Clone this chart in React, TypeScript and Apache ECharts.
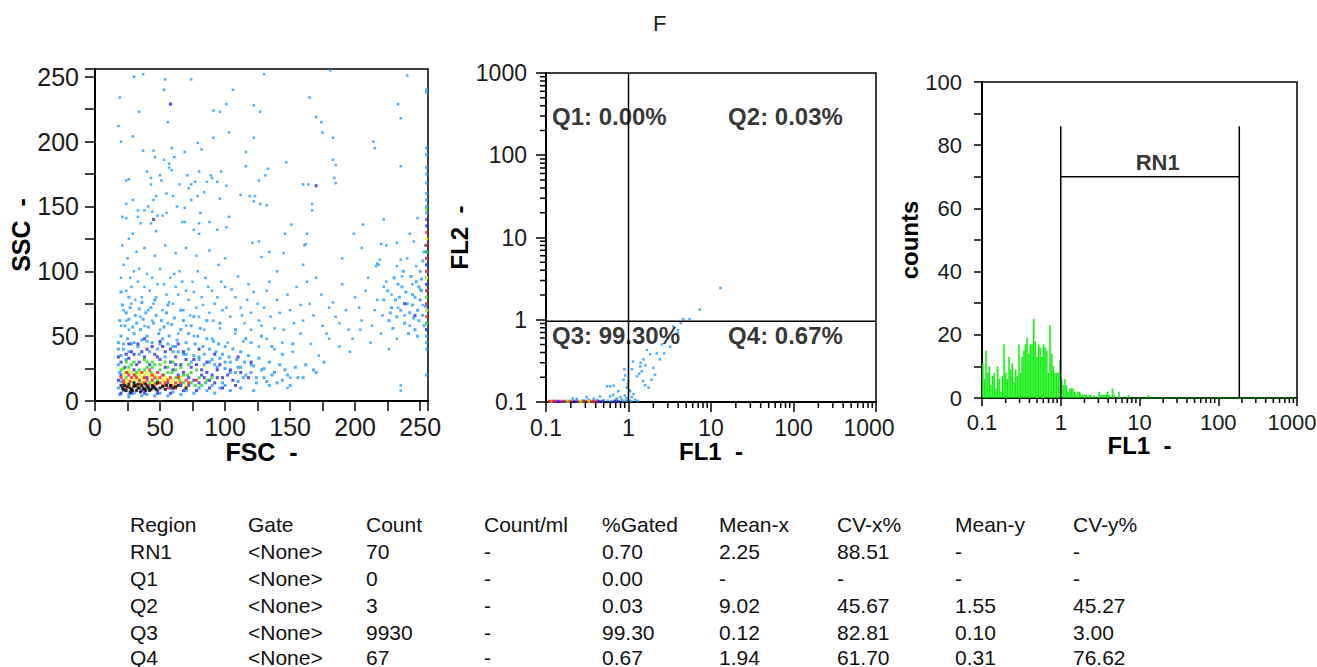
import React, { useEffect, useRef } from 'react';
import * as echarts from 'echarts';

const FONT = '"Liberation Sans", Arial, sans-serif';
const TITLE = 'F';

// ---------- Panel 1: FSC vs SSC (events, by density colour) ----------
const fscSscSparse: number[][] = [
  [30,250],[37,252],[54,248],[74,248],[130,252],[181,255],[240,251],[19,234],[53,240],[56,215],[106,240],[58,229],
  [101,229],[122,228],[127,223],[91,224],[96,223],[233,229],[235,218],[18,212],[20,200],[29,204],[34,223],[103,207],
  [165,234],[170,219],[174,215],[175,207],[183,203],[214,200],[215,195],[235,181],[183,186],[185,182],[185,168],
  [122,203],[116,192],[116,181],[91,203],[79,199],[82,194],[69,192],[59,195],[61,188],[45,193],[46,188],[37,193],
  [57,183],[53,186],[40,177],[43,172],[43,167],[50,174],[51,170],[57,180],[59,178],[71,174],[80,177],[89,174],
  [97,177],[90,172],[94,169],[86,169],[133,179],[131,174],[147,184],[126,170],[160,167],[164,167],[167,152],
  [167,147],[184,172],[119,158],[123,158],[65,167],[74,167],[77,169],[72,164],[79,158],[74,155],[84,161],[55,160],
  [60,158],[47,158],[45,155],[41,150],[44,146],[33,147],[38,147],[24,170],[26,171],[24,152],[29,155],[33,142],
  [24,141],[21,142],[29,129],[35,137],[43,137],[48,143],[47,131],[55,145],[52,143],[63,150],[69,149],[67,138],
  [69,138],[81,145],[80,137],[80,129],[76,132],[88,138],[94,132],[101,134],[103,142],[96,156],[101,166],[112,159],
  [122,154],[132,151],[151,136],[146,129],[163,129],[161,120],[162,121],[199,129],[206,136],[222,140],[220,121],
  [224,120],[232,122],[219,109],[217,106],[216,104],[235,109],[245,123],[248,141],[242,129],[121,122],[126,123],
  [128,111],[134,115],[145,114],[127,152],[235,8],[235,12],[148,10],[150,18]
];
const fscSscMid: number[][] = [
  [20,95],[22,105],[25,110],[28,88],[30,100],[33,92],[36,80],[40,98],[42,85],[45,75],[48,90],[50,102],[52,70],
  [55,82],[58,95],[60,75],[62,88],[65,100],[68,70],[70,85],[72,78],[75,92],[78,72],[80,65],[82,80],[85,95],[88,68],
  [90,85],[92,75],[95,105],[98,70],[100,88],[104,65],[108,80],[112,72],[115,60],[118,90],[120,68],[125,75],[128,58],
  [132,85],[135,65],[140,78],[145,55],[150,70],[155,88],[160,62],[165,75],[170,95],[175,58],[180,72],[185,65],
  [190,90],[195,55],[200,80],[205,62],[210,95],[215,70],[218,105],[222,88],[22,70],[24,62],[26,55],[28,75],[20,58],
  [35,65],[38,58],[44,62],[50,55],[56,60],[64,52],[70,58],[76,50],[84,55],[90,48],[96,56],[102,45],[108,52],[114,46],
  [120,55],[126,42],[132,48],[138,40],[144,45],[152,38],[158,52],[166,44],[172,35],[180,48],[188,42],[196,38],
  [204,55],[212,45],[220,52],[226,40],[232,48],
  [24,85],[27,95],[31,78],[34,102],[38,88],[41,70],[44,95],[47,80],[53,90],[57,76],[61,98],[64,82],[67,92],[73,66],
  [76,84],[79,100],[83,74],[87,88],[91,62],[94,80],[97,92],[101,72],[105,86],[110,96],[113,66],[117,78],[122,84],
  [126,62],[130,72],[134,92],[138,56],[142,68],[148,82],[153,60],[158,74],[163,92],[168,66],[174,82],[178,52],
  [183,76],[188,60],[193,70],[198,48],[203,72],[208,85],[213,58],[217,78],[221,66],[224,92],[228,82],[232,104],
  [236,96],[240,110],[244,90],[247,104],[250,86],[252,74],[242,58],[238,66],[233,72],[21,120],[26,125],[32,115],
  [38,118],[46,112],[54,120],[62,114],[70,118],[78,112],[88,116],[100,110],[140,100],[160,105],[190,110],[205,118]
];
const fscSscHalo: number[][] = [
  [19,62],[21,74],[23,58],[24,68],[26,63],[27,72],[29,57],[31,66],[32,60],[34,71],[35,55],[37,63],[39,68],[41,57],
  [43,72],[45,60],[47,66],[49,52],[51,62],[53,57],[55,68],[57,50],[59,59],[61,64],[63,47],[66,55],[68,62],[70,45],
  [72,52],[74,58],[77,44],[79,50],[81,56],[83,42],[86,48],[88,40],[91,46],[93,38],[95,44],[98,36],[100,42],[103,34],
  [106,40],[109,32],[112,38],[115,30],[118,35],[122,27],[126,33],[130,25],[134,30],[138,22],[142,28],[148,20],
  [154,26],[160,18],[168,24],[176,30],[120,45],[128,50],[136,42],[144,36],[152,44],[108,55],[116,48],[96,60],[86,62],
  [76,65],[66,70],[56,74],[46,78],[36,76],[26,80],[20,84],[30,45],[40,46],[50,44],[60,38],[70,36],[80,34],[90,32],
  [100,30],[110,26],[120,22],[130,18],[18,40],[22,44],[26,38],[34,36],[42,38],[54,34],[62,42],[74,30],[84,28],
  [94,26],[104,22],[114,18],[124,14],[134,12],[144,16],[86,8],[92,6],[98,14],[112,10],[122,8],[76,6],[66,5],[56,4],
  [46,4],[36,4],[26,3],[19,5],[18,45],[20,50],[22,40],[25,48],[28,44],[30,52],[33,42],[36,47],[40,50],[44,45],
  [48,40],[52,48],[56,44],[60,42],[64,38],[68,36],[72,40],[76,35],[80,32],[84,36],[88,30],[92,28],[96,33],[100,25],
  [104,30],[108,22],[112,26],[116,20],[120,28],[124,18],[128,24],[132,15],[136,20],[140,14],[146,24],[150,12],
  [156,18],[162,28],[170,22],[100,12],[104,8],[96,10],[110,15],[90,12],[85,14],[20,35],[24,32],[18,28],[19,22],
  [20,15],[18,10],[22,8],[26,5],[30,6],[40,5],[50,6],[60,7],[70,8],[80,10]
];
const fscSscRight: number[][] = [
  [222,78],[225,85],[228,72],[230,95],[232,65],[234,80],[236,88],[238,60],[240,75],[242,68],[244,82],[246,55],
  [247,92],[248,70],[249,62],[250,78],[251,85],[252,66],[253,58],[254,73],[226,62],[229,56],[233,90],[237,100],
  [241,52],[243,96],[245,64],[248,50],[250,100],[252,108],[239,84],[235,70],[231,78],[227,68],[244,74],[246,80],
  [249,88],[251,94],[253,115],[254,120],[255,240],[255,238],[255,195],[255,190],[255,180],[255,175],[255,168],
  [255,160],[255,155],[255,150],[255,145],[255,60],[255,55],[255,50],[255,45],[255,40],[255,100],[255,105],
  [255,110],[255,115],[255,95],[255,90],[255,85],[255,75],[255,70],[255,20]
];
const fscSscBlue: number[][] = [
  [20,30],[23,26],[26,33],[30,36],[34,30],[38,34],[42,28],[46,36],[50,32],[54,38],[58,30],[62,34],[66,28],[70,32],
  [74,26],[78,28],[82,24],[86,22],[90,20],[94,24],[98,18],[102,20],[106,16],[60,24],[64,20],[68,22],[72,18],[76,16],
  [80,14],[84,18],[88,16],[92,14],[40,40],[44,42],[28,38],[32,28],[20,20],[18,16],[22,12],[56,14],[44,10],[36,8],
  [48,8],[58,10],[66,12],[52,42],[33,44],[24,36],[36,38],[48,34],[58,40],[68,38],[76,32],[86,30],[96,28],[104,24],
  [112,22],[118,18],[108,12],[98,10],[88,10],[78,8],[68,8],[58,6],[48,6],[38,6],[28,6],[20,6],[120,30],[110,34],
  [92,36],[80,40],[64,44],[50,46],[38,48],[26,44],[18,34],[72,12],[82,20],[94,18],[62,28],[54,26],[40,18],[30,24],
  [58,229],[170,166],[45,140],[255,140],[255,135],[255,105],[255,90],[255,55],[238,75],[246,66]
];
const fscSscGreen: number[][] = [
  [22,25],[25,22],[28,28],[31,20],[34,24],[37,18],[40,26],[43,22],[46,28],[50,24],[53,20],[56,26],[59,22],[62,18],
  [65,16],[68,14],[71,20],[74,14],[77,12],[48,16],[42,14],[36,14],[30,14],[24,18],[38,32],[44,30],[30,30],[20,24],
  [26,26],[32,22],[38,24],[44,26],[50,28],[56,22],[62,24],[68,20],[74,22],[80,18],[86,16],[60,30],[66,26],[72,28],
  [78,24],[34,16],[46,14],[52,12],[82,12],[90,18],[24,30],[40,30],[54,30],[255,148],[255,115],[255,80],[255,60]
];
const fscSscYellow: number[][] = [
  [22,20],[25,16],[28,22],[31,17],[34,20],[37,15],[40,22],[43,18],[46,20],[49,14],[52,16],[55,18],[58,14],[61,12],
  [64,15],[33,12],[27,12],[45,12],[24,14],[30,16],[36,18],[42,20],[48,18],[54,16],[60,16],[66,18],[70,12],[26,24],
  [38,20],[44,14],[34,22],[255,125],[255,95],[255,70]
];
const fscSscRed: number[][] = [
  [20,18],[22,14],[24,10],[27,15],[30,12],[32,18],[35,13],[38,18],[41,12],[44,16],[47,13],[50,18],[53,12],[56,16],
  [59,12],[62,14],[26,20],[36,22],[48,22],[42,24],[54,14],[22,16],[28,18],[34,16],[40,16],[46,18],[52,20],[58,18],
  [64,18],[70,16],[66,14],[30,20],[44,20],[38,14],[56,10],[62,10],[72,14],[78,16],[24,22],[50,14],[255,130],
  [255,120],[255,110],[255,100],[255,85],[255,75],[255,65]
];
const fscSscBlack: number[][] = [
  [20,12],[22,9],[25,11],[28,9],[30,11],[32,8],[34,10],[36,12],[38,9],[40,11],[42,8],[44,12],[46,10],[26,13],[30,14],
  [24,8],[35,7],[39,13],[50,10],[55,12],[60,10],[48,14],[21,10],[23,12],[27,10],[29,8],[31,12],[33,10],[37,10],
  [41,10],[43,9],[45,11],[47,9],[52,11],[54,9],[58,12],[62,11],[27,7],[33,13],[39,8],[64,12],[70,10]
];

// ---------- Panel 2: FL1 vs FL2 ----------
const fl1fl2Trail: number[][] = [
  [13,2.43],[7.3,1.33],[5.5,1.02],[4.6,1.02],[4.3,0.91],[3.5,0.83],[3.9,0.69],[3.0,0.6],[2.54,0.5],[3.2,0.47],
  [2.7,0.39],[2.2,0.39],[1.83,0.38],[1.67,0.43],[2.4,0.33],[1.52,0.33],[1.39,0.27],[1.45,0.236],[2.1,0.215],
  [1.13,0.31],[1.1,0.25],[1.26,0.205],[1.9,0.187],[0.89,0.25],[0.91,0.21],[0.87,0.187],[1.0,0.18],[1.59,0.16],
  [1.75,0.15],[0.95,0.15],[1.05,0.135],[0.75,0.135],[0.55,0.155],[0.6,0.155],[0.66,0.158],[0.6,0.117],[0.45,0.117],
  [0.38,0.11],[0.31,0.115],[0.235,0.109],[0.21,0.11],[1.2,0.107],[0.83,0.107],[0.72,0.11],[0.9,0.12],[0.95,0.112],
  [1.0,0.105],[1.1,0.115],[0.8,0.115],[0.7,0.105],[1.3,0.103],[0.5,0.105],[0.42,0.106],[0.65,0.122],[0.28,0.104],
  [0.33,0.107],[1.15,0.125],[1.02,0.14],[0.98,0.165],[1.35,0.22],[1.5,0.18],[1.4,0.3],[1.6,0.28],[2.0,0.26],
  [4.0,0.75],[1.08,0.103],[0.93,0.104],[0.86,0.103],[0.62,0.103],[0.56,0.104]
];
const fl1fl2StripRed: number[][] = [[0.11,0.102],[0.125,0.102],[0.16,0.102],[0.2,0.102],[0.29,0.102],[0.36,0.102],[0.4,0.102]];
const fl1fl2StripYellow: number[][] = [[0.115,0.102],[0.18,0.102],[0.26,0.102],[0.33,0.102]];
const fl1fl2StripBlue: number[][] = [[0.12,0.102],[0.14,0.102],[0.17,0.102],[0.22,0.102],[0.3,0.102],[0.44,0.102],[0.48,0.102],[0.68,0.102],[0.75,0.102]];
const fl1fl2StripPurple: number[][] = [[0.13,0.102],[0.15,0.102],[0.24,0.102],[0.38,0.102]];
const fl1fl2StripGreen: number[][] = [[0.19,0.102],[0.27,0.102],[0.34,0.102]];
const quadrantSplit = { fl1: 1, fl2: 0.96 };
const quadrantLabelPos: number[][] = [[0.118, 300], [16.1, 300], [0.118, 0.64], [16.1, 0.64]];

// ---------- Panel 3: FL1 histogram (channels, 48 per decade from 0.1) ----------
const BINS_PER_DECADE = 48;
const histFirstDecade = [11,6,15,8,10,4,7,8,3,10,6,2,7,17,8,6,13,9,11,5,9,7,17,8,13,15,17,19,14,17,17,25,18,13,17,16,13,17,16,15,8,23,14,10,8,8,8,12];
const histTail: number[][] = [
  [48,6],[49,4],[50,6],[51,4],[52,2],[53,3],[54,3],[55,3],[56,2],[57,1],[58,2],[59,2],[60,1],[61,1],[62,1],[63,1],
  [65,1],[66,1],[68,1],[71,2],[72,1],[73,1],[74,1],[75,1],[76,2],[77,1],[79,3],[80,1],[83,2],[89,1],[101,1]
];
const rn1Gate = { from: 1, to: 185, level: 70, top: 86, labelAt: 17 };

// ---------- Statistics table ----------
const tableHeader = ['Region', 'Gate', 'Count', 'Count/ml', '%Gated', 'Mean-x', 'CV-x%', 'Mean-y', 'CV-y%'];
const regions = ['RN1', 'Q1', 'Q2', 'Q3', 'Q4'];
const gates = ['<None>', '<None>', '<None>', '<None>', '<None>'];
const counts = ['70', '0', '3', '9930', '67'];
const countPerMl = ['-', '-', '-', '-', '-'];
const pctGated = ['0.70', '0.00', '0.03', '99.30', '0.67'];
const meanX = ['2.25', '-', '9.02', '0.12', '1.94'];
const cvX = ['88.51', '-', '45.67', '82.81', '61.70'];
const meanY = ['-', '-', '1.55', '0.10', '0.31'];
const cvY = ['-', '-', '45.27', '3.00', '76.62'];

const logMajor = [0.1, 1, 10, 100, 1000];
const logMinor = [0.2,0.3,0.4,0.5,0.6,0.7,0.8,0.9,2,3,4,5,6,7,8,9,20,30,40,50,60,70,80,90,200,300,400,500,600,700,800,900];

const fmtLog = (v: number) => (v < 1 ? (Math.round(v * 10) / 10).toFixed(1) : String(Math.round(v)));

export default function App() {
  const ref = useRef<HTMLDivElement>(null);
  useEffect(() => {
    if (!ref.current) return;
    const chart = echarts.init(ref.current, null, { renderer: 'svg' });

    const black = '#000';
    const labelColor = '#1a1a1a';
    const axisBase = (fontSize: number, margin: number, tickLen: number) => ({
      axisLine: { show: true, onZero: false, lineStyle: { color: black, width: 2 } },
      axisTick: { show: true, length: tickLen, lineStyle: { color: black, width: 1.5 } },
      axisLabel: { fontSize, margin, color: labelColor, fontFamily: FONT },
      splitLine: { show: false },
      nameLocation: 'middle' as const,
    });
    const nameStyle = (size: number) => ({ fontSize: size, fontWeight: 'bold' as const, color: '#000', fontFamily: FONT });

    const dot = (data: number[][], color: string, size: number, xi: number, yi: number) => ({
      type: 'scatter', xAxisIndex: xi, yAxisIndex: yi, data, symbol: 'rect', symbolSize: size,
      itemStyle: { color }, silent: true,
    });
    const seg = (data: number[][], xi: number, yi: number) => ({
      type: 'line', xAxisIndex: xi, yAxisIndex: yi, data, symbol: 'none',
      lineStyle: { color: black, width: 1.5 }, silent: true, z: 5,
    });
    const minorTicks = (data: number[][], xi: number, yi: number, dir: 'x' | 'y', len: number) => ({
      type: 'custom', xAxisIndex: xi, yAxisIndex: yi, data, clip: false, silent: true, z: 6,
      renderItem: (_p: any, api: any) => {
        const p = api.coord([api.value(0), api.value(1)]);
        const shape = dir === 'x'
          ? { x1: p[0], y1: p[1], x2: p[0], y2: p[1] + len }
          : { x1: p[0], y1: p[1], x2: p[0] - len, y2: p[1] };
        return { type: 'line', shape, style: { stroke: black, lineWidth: 1.5 } };
      },
    });
    const textLabel = (size: number) => ({
      show: true, fontSize: size, fontWeight: 'bold' as const, color: '#000', fontFamily: FONT,
    });

    const nBins = BINS_PER_DECADE * 4;
    const histCounts: number[] = new Array(nBins).fill(0);
    histFirstDecade.forEach((c, i) => { histCounts[i] = c; });
    histTail.forEach(([i, c]) => { histCounts[i] = c; });
    const binNames = histCounts.map((_, i) => String(i));

    const quadNames = ['Q1', 'Q2', 'Q3', 'Q4'];
    const quadLabels = quadNames.map((q, i) => ({
      value: quadrantLabelPos[i],
      label: { formatter: `${q}: ${pctGated[regions.indexOf(q)]}%` },
    }));

    const colX = [130, 248, 366, 484, 602, 719, 837, 955, 1073];
    const rowY = [524, 551, 578, 605, 632, 657];
    const rows = [tableHeader, ...regions.map((r, i) => [r, gates[i], counts[i], countPerMl[i], pctGated[i], meanX[i], cvX[i], meanY[i], cvY[i]])];
    const tableTexts: any[] = [];
    rows.forEach((row, r) => row.forEach((txt, c) => {
      tableTexts.push({
        type: 'text', x: colX[c], y: rowY[r], silent: true,
        style: { text: txt, fill: '#111', font: `21px ${FONT}`, verticalAlign: 'middle', align: 'left' },
      });
    }));

    const gridCommon = { show: true, borderColor: black, borderWidth: 1.5, backgroundColor: 'transparent', containLabel: false, outerBoundsMode: 'none' };

    chart.setOption({
      animation: false,
      backgroundColor: '#fff',
      title: { text: TITLE, left: 648, top: 7, textStyle: { fontSize: 22, fontWeight: 'normal', color: '#222', fontFamily: FONT } },
      grid: [
        { ...gridCommon, left: 95, top: 69, width: 333, height: 332 },
        { ...gridCommon, left: 546, top: 73, width: 330, height: 329 },
        { ...gridCommon, left: 982, top: 82, width: 315, height: 316 },
      ],
      xAxis: [
        {
          ...axisBase(25, 13, 10), gridIndex: 0, type: 'value', min: 0, max: 256, interval: 25,
          axisLabel: { ...axisBase(25, 13, 10).axisLabel, formatter: (v: number) => (v % 50 === 0 && v <= 250 ? String(v) : '') },
          name: 'FSC  -', nameGap: 37, nameTextStyle: nameStyle(25),
        },
        {
          ...axisBase(23, 14, 10), gridIndex: 1, type: 'log', logBase: 10, min: logMajor[0], max: logMajor[4],
          axisLabel: {
            ...axisBase(23, 14, 10).axisLabel,
            formatter: (v: number) => (v >= logMajor[4] ? `{m|${fmtLog(v)}}` : fmtLog(v)),
            rich: { m: { fontSize: 23, fontFamily: FONT, color: labelColor, padding: [0, 14, 0, 0] } },
          },
          name: 'FL1  -', nameGap: 37, nameTextStyle: nameStyle(24),
        },
        {
          ...axisBase(22, 13, 8), gridIndex: 2, type: 'log', logBase: 10, min: logMajor[0], max: logMajor[4],
          axisLabel: {
            ...axisBase(22, 13, 8).axisLabel,
            formatter: (v: number) => (v >= logMajor[4] ? `{m|${fmtLog(v)}}` : fmtLog(v)),
            rich: { m: { fontSize: 22, fontFamily: FONT, color: labelColor, padding: [0, 10, 0, 0] } },
          },
          name: 'FL1  -', nameGap: 35, nameTextStyle: nameStyle(24),
        },
        { gridIndex: 2, type: 'category', data: binNames, show: false, boundaryGap: true, position: 'bottom' },
      ],
      yAxis: [
        {
          ...axisBase(25, 16, 10), gridIndex: 0, type: 'value', min: 0, max: 256, interval: 25,
          axisLabel: { ...axisBase(25, 16, 10).axisLabel, formatter: (v: number) => (v % 50 === 0 && v <= 250 ? String(v) : '') },
          name: 'SSC  -', nameRotate: 90, nameGap: 60, nameTextStyle: nameStyle(25),
        },
        {
          ...axisBase(23, 19, 10), gridIndex: 1, type: 'log', logBase: 10, min: logMajor[0], max: logMajor[4],
          axisLabel: { ...axisBase(23, 19, 10).axisLabel, formatter: fmtLog },
          name: 'FL2  -', nameRotate: 90, nameGap: 62, nameTextStyle: nameStyle(24),
        },
        {
          ...axisBase(22, 20, 8), gridIndex: 2, type: 'value', min: 0, max: 100, interval: 10,
          axisLabel: { ...axisBase(22, 20, 8).axisLabel, formatter: (v: number) => (v % 20 === 0 ? String(v) : '') },
          name: 'counts', nameRotate: 90, nameGap: 56, nameTextStyle: nameStyle(24),
        },
      ],
      series: [
        dot([...fscSscSparse, ...fscSscMid], '#1E9BFF', 2.5, 0, 0),
        dot([...fscSscHalo, ...fscSscRight], '#1E9BFF', 3, 0, 0),
        dot(fscSscBlue, '#2B2BE6', 3, 0, 0),
        dot(fscSscGreen, '#1EDC1E', 3, 0, 0),
        dot(fscSscYellow, '#F5F000', 3, 0, 0),
        dot(fscSscRed, '#FF1E1E', 3, 0, 0),
        dot(fscSscBlack, '#000000', 3, 0, 0),

        dot(fl1fl2Trail, '#1E9BFF', 2.5, 1, 1),
        dot(fl1fl2StripBlue, '#2B2BE6', 3, 1, 1),
        dot(fl1fl2StripPurple, '#8A2BE2', 3, 1, 1),
        dot(fl1fl2StripGreen, '#1EDC1E', 3, 1, 1),
        dot(fl1fl2StripYellow, '#F5C000', 3, 1, 1),
        dot(fl1fl2StripRed, '#FF1E1E', 3, 1, 1),
        seg([[quadrantSplit.fl1, logMajor[0]], [quadrantSplit.fl1, logMajor[4]]], 1, 1),
        seg([[logMajor[0], quadrantSplit.fl2], [logMajor[4], quadrantSplit.fl2]], 1, 1),
        {
          type: 'scatter', xAxisIndex: 1, yAxisIndex: 1, data: quadLabels, symbol: 'rect', symbolSize: 0.1, silent: true, z: 8,
          itemStyle: { color: '#000' },
          label: { ...textLabel(24), position: 'right', distance: 0 },
        },
        minorTicks(logMinor.map((v) => [v, logMajor[0]]), 1, 1, 'x', 6),
        minorTicks(logMinor.map((v) => [logMajor[0], v]), 1, 1, 'y', 6),

        {
          type: 'bar', xAxisIndex: 3, yAxisIndex: 2, data: histCounts, barCategoryGap: '0%', silent: true,
          itemStyle: { color: '#14EE14', borderColor: '#14EE14', borderWidth: 0.4 },
        },
        seg([[rn1Gate.from, 0], [rn1Gate.from, rn1Gate.top]], 2, 2),
        seg([[rn1Gate.to, 0], [rn1Gate.to, rn1Gate.top]], 2, 2),
        seg([[rn1Gate.from, rn1Gate.level], [rn1Gate.to, rn1Gate.level]], 2, 2),
        {
          type: 'scatter', xAxisIndex: 2, yAxisIndex: 2, data: [[rn1Gate.labelAt, rn1Gate.level]], symbol: 'rect', symbolSize: 0.1, silent: true, z: 8,
          itemStyle: { color: '#000' },
          label: { ...textLabel(22), position: 'top', distance: 3, formatter: regions[0] },
        },
        minorTicks(logMinor.map((v) => [v, 0]), 2, 2, 'x', 5),
      ],
      graphic: tableTexts,
    });

    return () => chart.dispose();
  }, []);

  return <div ref={ref} style={{ position: 'fixed', left: 0, top: 0, width: 1317, height: 667, background: '#fff' }} />;
}
